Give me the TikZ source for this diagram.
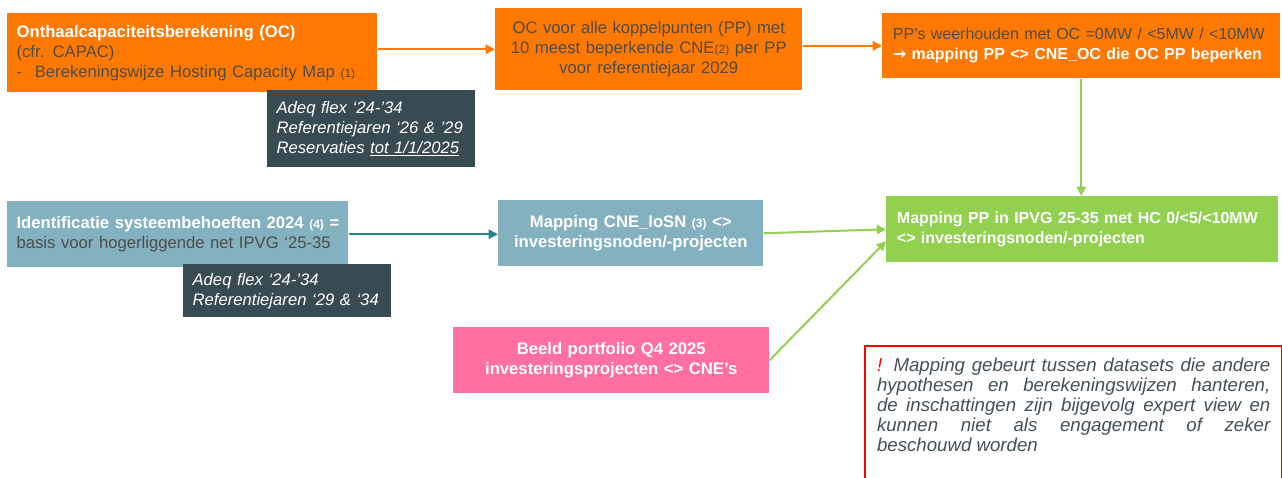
\documentclass[tikz,border=0pt]{standalone}
\usepackage{fontspec}
\setmainfont{Liberation Sans}
\newfontfamily\arrowfont{DejaVu Sans}
\usetikzlibrary{arrows.meta}

\definecolor{ocorange}{RGB}{255,121,0}
\definecolor{slate}{RGB}{56,74,82}
\definecolor{steel}{RGB}{132,177,191}
\definecolor{leaf}{RGB}{146,208,80}
\definecolor{rose}{RGB}{255,112,160}
\definecolor{petrol}{RGB}{38,132,145}
\definecolor{txtgray}{RGB}{77,77,77}
\definecolor{notegray}{RGB}{68,80,88}

\newcommand\fnref[1]{{\fontsize{9}{9}\selectfont(#1)}}

\tikzset{
  box/.style={rectangle,anchor=north west,inner xsep=7pt,inner ysep=0pt,
    font=\fontsize{12.5}{15}\selectfont},
  ocbox/.style={box,fill=ocorange,text=txtgray},
  steelbox/.style={box,fill=steel,text=white},
  hypo/.style={box,fill=slate,text=white,align=left,
    font=\fontsize{12.5}{15}\selectfont\itshape},
  flow/.style={-{Triangle[length=7pt,width=7pt]},line width=1.5pt},
  ocflow/.style={flow,draw=ocorange,fill=ocorange},
  leafflow/.style={flow,draw=leaf,fill=leaf},
  petrolflow/.style={flow,draw=petrol,fill=petrol},
}

\begin{document}
\begin{tikzpicture}[x=0.75pt,y=-0.75pt]
  \useasboundingbox (0,0) rectangle (1282,478);

  \node [ocbox,align=left,text width=263.5pt,minimum height=59.25pt] (capac) at (7,13)
    {{\color{white}\bfseries Onthaalcapaciteitsberekening (OC)}\\
     (cfr. CAPAC)\\
     -\hspace{9.5pt}Berekeningswijze Hosting Capacity Map \fnref{1}};
  \node [hypo,text width=142pt,minimum height=57.75pt] (adeqA) at (267,90)
    {Adeq flex ‘24-’34\\ Referentiejaren ‘26 \& ’29\\ Reservaties \underline{tot 1/1/2025}};

  \node [ocbox,align=center,text width=216.25pt,minimum height=61.5pt] (alloc) at (495,8)
    {OC voor alle koppelpunten (PP) met\\ 10 meest beperkende CNE\fnref{2} per PP\\ voor referentiejaar 2029};

  \node [ocbox,align=left,inner xsep=8pt,text width=282.5pt,minimum height=48.75pt,
    font=\fontsize{12}{15}\selectfont] (retain) at (882,13)
    {\mbox{PP’s weerhouden met OC =0MW / <5MW / <10MW}\\
     \mbox{\color{white}\bfseries{\arrowfont →} mapping PP <> CNE\_OC die OC PP beperken}};

  \node [box,fill=leaf,text=white,align=left,font=\fontsize{12}{15}\selectfont\bfseries,
    inner xsep=8pt,text width=278pt,minimum height=49.5pt] (mapPP) at (886,196)
    {\mbox{Mapping PP in IPVG 25-35 met HC 0/<5/<10MW}\\ <> investeringsnoden/-projecten};

  \node [steelbox,align=left,text width=241.75pt,minimum height=49.5pt] (sysneeds) at (7,201)
    {\mbox{\bfseries Identificatie systeembehoeften 2024 \fnref{4} =}\\
     {\color{txtgray}basis voor hogerliggende net IPVG ‘25-35}};
  \node [hypo,text width=142pt,minimum height=39.75pt] (adeqE) at (183,264)
    {Adeq flex ‘24-’34\\ Referentiejaren ‘29 \& ‘34};

  \node [steelbox,align=center,font=\fontsize{12.5}{15}\selectfont\bfseries,
    text width=184.75pt,minimum height=49.5pt] (mapCNE) at (498,200)
    {Mapping CNE\_IoSN \fnref{3} <>\\ investeringsnoden/-projecten};

  \node [box,fill=rose,text=white,align=center,font=\fontsize{12.5}{15}\selectfont\bfseries,
    text width=223pt,minimum height=49.5pt] (portf) at (453,327)
    {Beeld portfolio Q4 2025\\ investeringsprojecten <> CNE’s};

  \node [rectangle,anchor=north west,draw=red,line width=1.5pt,inner xsep=9pt,inner ysep=9pt,
    text width=295pt,align=justify,text=notegray,
    font=\fontsize{14}{15}\selectfont\itshape] (note) at (864,345)
    {{\color{red}!} Mapping gebeurt tussen datasets die andere\linebreak
     hypothesen en berekeningswijzen hanteren,\linebreak
     de inschattingen zijn bijgevolg expert view en\linebreak
     kunnen niet als engagement of zeker\linebreak
     beschouwd worden\rule[-30pt]{0pt}{0pt}};

  \draw [ocflow] (alloc.west -| capac.east) -- (alloc.west);
  \draw [ocflow] (retain.west -| alloc.east) -- (retain.west);
  \draw [leafflow] (retain.south) -- (retain.south |- mapPP.north);
  \draw [petrolflow] (sysneeds.east) -- (sysneeds.east -| mapCNE.west);
  \draw [leafflow] (mapCNE.east) -- (mapPP.west);
  \draw [leafflow] (portf.east) -- ([yshift=-9pt]mapPP.west);
\end{tikzpicture}
\end{document}
